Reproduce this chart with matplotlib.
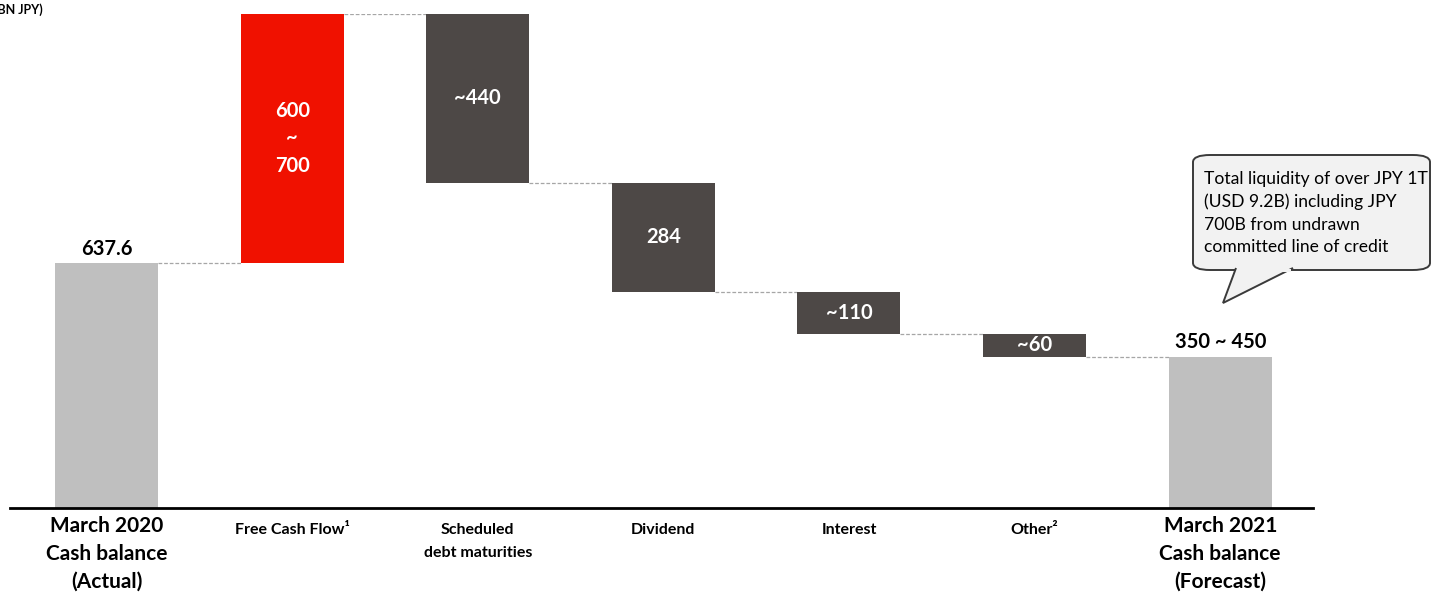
import matplotlib
matplotlib.use("Agg")
import matplotlib.pyplot as plt
from matplotlib.patches import FancyBboxPatch, Polygon
from matplotlib.transforms import ScaledTranslation
import numpy as np

plt.rcParams['font.family'] = ['Lato', 'DejaVu Sans']

categories = ["March 2020\nCash balance\n(Actual)", "Free Cash Flow\u00b9", "Scheduled\ndebt maturities",
              "Dividend", "Interest", "Other\u00b2", "March 2021\nCash balance\n(Forecast)"]
start_value = 637.6
changes = [650, -440, -284, -110, -60]  # FCF midpoint of 600~700
value_labels = ["637.6", "600\n~\n700", "~440", "284", "~110", "~60", "350 ~ 450"]
end_value = start_value + sum(changes)

grey = "#BFBFBF"
red = "#F01100"
dark = "#4D4846"

fig = plt.figure(figsize=(14.32, 5.95), dpi=100)
ax = fig.add_axes([10/1432, (595-508)/595, (1313-10)/1432, (508-14)/595])

x = np.arange(len(categories))
w = 0.555

bottoms, heights, colors = [0], [start_value], [grey]
running = start_value
for c in changes:
    if c >= 0:
        bottoms.append(running); heights.append(c); colors.append(red)
    else:
        bottoms.append(running + c); heights.append(-c); colors.append(dark)
    running += c
bottoms.append(0); heights.append(end_value); colors.append(grey)

ax.bar(x, heights, bottom=bottoms, width=w, color=colors, zorder=2)

levels = [start_value]
r = start_value
for c in changes:
    r += c
    levels.append(r)
for i, lv in enumerate(levels):
    ax.plot([x[i] + w/2, x[i+1] - w/2], [lv, lv], color="#A6A6A6", lw=0.9,
            ls=(0, (3, 1.5)), zorder=1)

ax.text(x[0], start_value + 12, value_labels[0], ha="center", va="bottom",
        fontsize=14.5, fontweight="bold", color="black")
ax.text(x[-1], end_value + 12, value_labels[-1], ha="center", va="bottom",
        fontsize=14.5, fontweight="bold", color="black")
for i in range(1, len(categories) - 1):
    ax.text(x[i], bottoms[i] + heights[i] / 2, value_labels[i], ha="center", va="center",
            fontsize=14.5, fontweight="bold", color="white", linespacing=1.45)

ax.set_xlim(-0.52, 6.5)
ax.set_ylim(0, start_value + changes[0])
for s in ["top", "right", "left"]:
    ax.spines[s].set_visible(False)
ax.spines["bottom"].set_linewidth(2)
ax.spines["bottom"].set_color("black")
ax.set_yticks([])
ax.set_xticks([])

# category labels below the axis
for i, cat in enumerate(categories):
    big = i in (0, len(categories) - 1)
    off = -5.5 / 72 if big else -11 / 72
    tr = ax.get_xaxis_transform() + ScaledTranslation(0, off, fig.dpi_scale_trans)
    ax.text(x[i], 0, cat, transform=tr, ha="center", va="top", fontweight="bold",
            fontsize=15 if big else 11.5, linespacing=1.5 if big else 1.8,
            multialignment="center")

# unit text (partly cut at the left edge, as in the reference)
fig.text(-6/1432, 1 - 10/595, "(BN JPY)", fontsize=9, fontweight="bold", ha="left", va="center")

def fx(px):
    return px / 1432
def fy(py):
    return 1 - py / 595

face = "#F2F2F2"
edge = "#3A3A3A"
tail = Polygon([(fx(1236), fy(268)), (fx(1223), fy(303)), (fx(1293), fy(268))],
               closed=False, transform=fig.transFigure, facecolor=face, edgecolor=edge,
               lw=1.4, zorder=5)
fig.patches.append(tail)
box = FancyBboxPatch((fx(1193), fy(270)), fx(1430) - fx(1193), fy(155) - fy(270),
                     boxstyle="round,pad=0,rounding_size=0.012", transform=fig.transFigure,
                     facecolor=face, edgecolor=edge, lw=1.4, zorder=4)
fig.patches.append(box)
cover = Polygon([(fx(1237.5), fy(269)), (fx(1291), fy(269)), (fx(1291), fy(272)), (fx(1237.5), fy(272))],
                closed=True, transform=fig.transFigure, facecolor=face, edgecolor="none", zorder=6)
fig.patches.append(cover)
fig.text(fx(1204), fy(213), "Total liquidity of over JPY 1T\n(USD 9.2B) including JPY\n700B from undrawn\ncommitted line of credit",
         fontsize=12.6, ha="left", va="center", linespacing=1.5, zorder=7)

fig.savefig("out.png", dpi=100)
